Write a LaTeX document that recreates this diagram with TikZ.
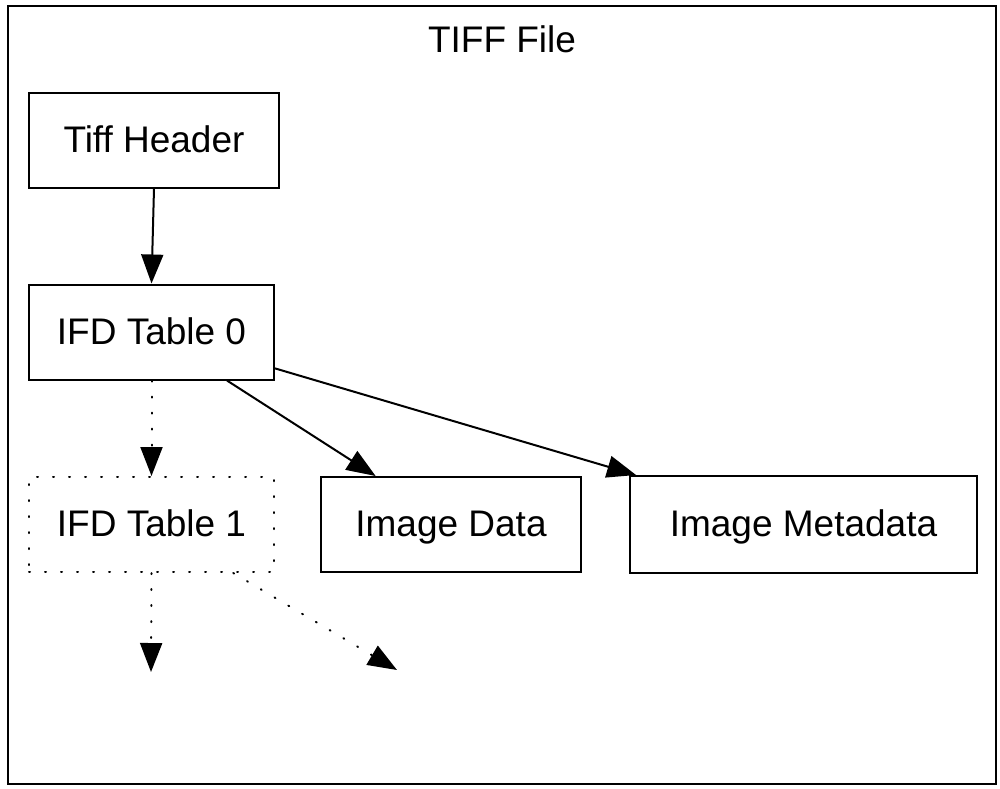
\documentclass[tikz,border=0pt]{standalone}
\usepackage{fontspec}
\setmainfont{Liberation Sans}
\usetikzlibrary{arrows.meta}
\begin{document}
\begin{tikzpicture}[x=1pt,y=-1pt,
  every node/.style={font=\fontsize{37}{44}\selectfont},
  box/.style={draw,line width=2pt,inner sep=0pt,minimum height=95pt,text height=30pt,text depth=6pt},
  dotbox/.style={box,line cap=round,dash pattern=on 1pt off 15pt},
  arr/.style={line width=2pt,-{Triangle[length=29pt,width=22pt]}},
  dotarr/.style={arr,line cap=round,dash pattern=on 1pt off 15pt}]
\useasboundingbox (0,0) rectangle (1000,788);
\draw[line width=2pt] (8,6) rectangle (996,784);
\node (title) at (502,39) {TIFF File};
\node[box,minimum width=250pt] (th) at (154,140) {Tiff Header};
\node[box,minimum width=245pt] (i0) at (151.5,332) {IFD Table 0};
\node[dotbox,minimum width=245pt] (i1) at (151.5,524.5) {IFD Table 1};
\node[box,minimum width=260pt] (img) at (451,524.5) {Image Data};
\node[box,minimum width=347pt,minimum height=97pt] (meta) at (803.5,524.5) {Image Metadata};
\coordinate (c1) at (151,672);
\coordinate (c2) at (397,670);
\draw[arr] (th.south) -- (i0.north);
\draw[dotarr] (i0.south) -- (i1.north);
\draw[arr] (i0) -- (img);
\draw[arr] (i0) -- (meta);
\draw[dotarr] (i1.south) -- (c1);
\draw[dotarr] (i1) -- (c2);
\end{tikzpicture}
\end{document}
